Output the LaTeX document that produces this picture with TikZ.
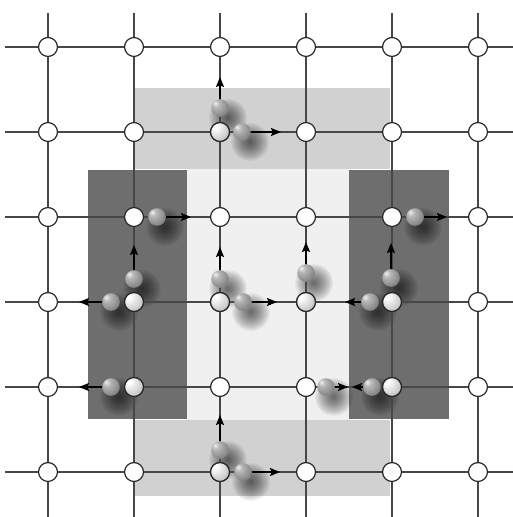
\documentclass[tikz,border=0pt]{standalone}
\usetikzlibrary{arrows.meta,shadings}
\pgfdeclareradialshading{nodeshade}{\pgfpoint{-16bp}{16bp}}{color(0bp)=(white); color(6bp)=(white); color(36bp)=(black!25); color(60bp)=(black!42); color(75bp)=(black!45)}
\pgfdeclareradialshading{sphereshade}{\pgfpoint{-14bp}{14bp}}{color(0bp)=(black!6); color(10bp)=(black!28); color(32bp)=(black!48); color(55bp)=(black!60); color(75bp)=(black!62)}
\definecolor{lightband}{gray}{0.82}
\definecolor{darkband}{gray}{0.43}
\definecolor{coreband}{gray}{0.94}
\begin{document}
\begin{tikzpicture}[x=0.75pt,y=-0.75pt,
  gridline/.style={draw=black!72, line width=0.9pt},
  sitebase/.style={circle, draw=black!85, line width=0.9pt, minimum size=14.2pt, inner sep=0pt},
  site/.style={sitebase, fill=white},
  hotsite/.style={circle, minimum size=14.2pt, inner sep=0pt, shading=sphereshade, shading=nodeshade, draw=black!85, line width=0.9pt},
  sphere/.style={circle, minimum size=13.2pt, inner sep=0pt, shading=sphereshade},
  shadowring/.style={fill=black, opacity=0.05},
  move/.style={draw=black, line width=1.1pt, -{Stealth[length=7.5pt,width=6pt,inset=1.2pt]}},
]
\useasboundingbox (0,0) rectangle (513,517);
% bands
\fill[lightband] (135,88) rectangle (390,169);
\fill[lightband] (135,420) rectangle (390,496);
\fill[coreband] (187,169) rectangle (349,420);
\fill[darkband] (88,170) rectangle (187,419);
\fill[darkband] (349,170) rectangle (449,419);
% soft shadows of the spheres (stacked translucent discs)
\foreach \bx/\by in {220/108,242/132,157/217,134/279,111/302,111/387,220/279,243/302,306/273,415/217,391/278,370/302,326/387,372/387,220/450,243/472}
  \foreach \rr in {2,3.3,4.6,5.9,7.2,8.5,9.8,11.1,12.4,13.7,15,16.3,17.6,18.9}
    \fill[shadowring] (\bx+8,\by+10) circle (\rr*0.75pt);
% grid lines
\foreach \x in {48,134,220,306,392,478}
  \draw[gridline] (\x,13) -- (\x,517);
\foreach \y in {47,132,217,302,387,472}
  \draw[gridline] (5,\y) -- (513,\y);
% sites
\foreach \c/\x in {0/48,1/134,2/220,3/306,4/392,5/478}
  \foreach \r/\y in {0/47,1/132,2/217,3/302,4/387,5/472}
    \node[site] (n\c\r) at (\x,\y) {};
\foreach \h in {21,13,14,23,33,43,44,25}
  \node[hotsite] (h\h) at (n\h) {};
% spheres
\node[sphere] (bA1) at (220,108) {};
\node[sphere] (bA2) at (242,132) {};
\node[sphere] (bB)  at (157,217) {};
\node[sphere] (bC1) at (134,279) {};
\node[sphere] (bC2) at (111,302) {};
\node[sphere] (bD)  at (111,387) {};
\node[sphere] (bE1) at (220,279) {};
\node[sphere] (bE2) at (243,302) {};
\node[sphere] (bF)  at (306,273) {};
\node[sphere] (bG)  at (415,217) {};
\node[sphere] (bH1) at (391,278) {};
\node[sphere] (bH2) at (370,302) {};
\node[sphere] (bI)  at (326,387) {};
\node[sphere] (bJ)  at (372,387) {};
\node[sphere] (bK1) at (220,450) {};
\node[sphere] (bK2) at (243,472) {};
% arrow tips
\coordinate (tA1) at (220,77);
\coordinate (tA2) at (281,132);
\coordinate (tB)  at (191,217);
\coordinate (tC1) at (134,245);
\coordinate (tC2) at (79,302);
\coordinate (tD)  at (79,387);
\coordinate (tE1) at (220,247);
\coordinate (tE2) at (277,302);
\coordinate (tF)  at (306,242);
\coordinate (tG)  at (447,217);
\coordinate (tH1) at (391,243);
\coordinate (tH2) at (345,302);
\coordinate (tI)  at (348,387);
\coordinate (tJ)  at (352,387);
\coordinate (tK1) at (220,415);
\coordinate (tK2) at (280,472);
\foreach \m in {A1,A2,B,C1,C2,D,E1,E2,F,G,H1,H2,I,J,K1,K2}
  \draw[move] (b\m) -- (t\m);
\end{tikzpicture}
\end{document}
